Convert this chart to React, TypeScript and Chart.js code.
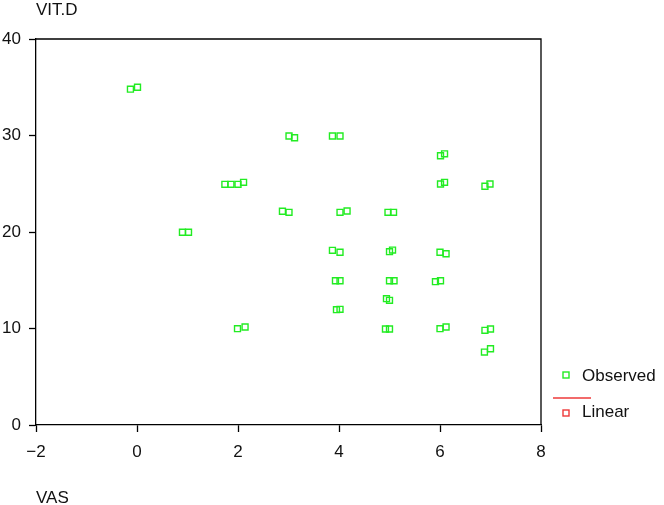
import React, { useEffect, useRef } from "react";
import { Chart, registerables } from "chart.js";

Chart.register(...registerables);

const xTitle = "VAS";
const yTitle = "VIT.D";
const seriesLabels = ["Observed", "Linear"];

const vasValues = [
  -0.13, 0.01, 3.01, 3.12, 3.87, 4.02, 6.01, 6.09, 1.74, 1.86,
  2.0, 2.11, 6.01, 6.09, 6.89, 6.99, 2.88, 3.01, 4.02, 4.16,
  4.97, 5.08, 0.9, 1.02, 3.87, 4.02, 5.0, 5.06, 6.0, 6.12,
  3.93, 4.02, 5.0, 5.09, 5.91, 6.01, 4.94, 5.0, 3.95, 4.02,
  1.99, 2.14, 4.92, 5.0, 6.0, 6.12, 6.89, 7.0, 6.88, 7.0,
];
const vitdValues = [
  34.8, 35.0, 29.95, 29.77, 29.95, 29.95, 27.9, 28.1, 24.94, 24.94,
  24.94, 25.15, 24.97, 25.15, 24.74, 24.97, 22.15, 22.04, 22.04, 22.18,
  22.04, 22.04, 19.97, 19.97, 18.1, 17.9, 17.96, 18.13, 17.9, 17.75,
  14.95, 14.95, 14.95, 14.95, 14.85, 14.95, 13.09, 12.92, 11.95, 11.99,
  9.98, 10.16, 9.95, 9.95, 9.98, 10.16, 9.81, 9.95, 7.56, 7.9,
];
const linearValues: { x: number; y: number }[] = [];

const GREEN = "#22ec22";
const RED = "#ee3a3a";
const FONT = "'Liberation Sans', Arial, Helvetica, sans-serif";
const TEXT = "#111";

export default function App() {
  const ref = useRef<HTMLCanvasElement | null>(null);

  useEffect(() => {
    const canvas = ref.current;
    if (!canvas) return;
    const observed = vasValues.map((x, i) => ({ x, y: vitdValues[i] }));

    const framePlugin = {
      id: "frame",
      afterDraw(chart: any) {
        const ctx = chart.ctx;
        const a = chart.chartArea;
        ctx.save();
        ctx.strokeStyle = "#000";
        ctx.lineWidth = 1.3;
        ctx.beginPath();
        ctx.moveTo(a.left, a.top);
        ctx.lineTo(a.right, a.top);
        ctx.lineTo(a.right, a.bottom);
        ctx.stroke();

        ctx.fillStyle = TEXT;
        ctx.font = `17px ${FONT}`;
        ctx.textAlign = "left";
        ctx.textBaseline = "alphabetic";
        ctx.fillText(yTitle, 36, 15);
        ctx.fillText(xTitle, 36, 503);

        // legend
        const ds = chart.data.datasets;
        ctx.lineWidth = 1.4;
        ctx.strokeStyle = ds[0].borderColor;
        ctx.strokeRect(563, 372, 6, 6);
        ctx.textBaseline = "middle";
        ctx.fillText(ds[0].label, 582, 376);
        ctx.strokeStyle = ds[1].borderColor;
        ctx.lineWidth = 1.3;
        ctx.beginPath();
        ctx.moveTo(553, 398);
        ctx.lineTo(591, 398);
        ctx.stroke();
        ctx.lineWidth = 1.4;
        ctx.strokeRect(563, 410, 6, 6);
        ctx.fillText(ds[1].label, 582, 412);
        ctx.restore();
      },
    };

    const chart = new Chart(canvas, {
      type: "scatter",
      data: {
        datasets: [
          {
            label: seriesLabels[0],
            data: observed,
            pointStyle: "rect",
            pointRadius: 4.2,
            borderWidth: 1.4,
            borderColor: GREEN,
            backgroundColor: "rgba(0,0,0,0)",
          },
          {
            label: seriesLabels[1],
            data: linearValues,
            type: "line",
            pointStyle: "rect",
            borderColor: RED,
            backgroundColor: "rgba(0,0,0,0)",
          },
        ],
      },
      options: {
        animation: false,
        responsive: false,
        devicePixelRatio: 1,
        layout: { padding: { left: 0, top: 39, right: 123, bottom: 0 } },
        plugins: { legend: { display: false }, tooltip: { enabled: false } },
        scales: {
          x: {
            type: "linear",
            min: -2,
            max: 8,
            afterFit: (s: any) => {
              s.height = 80;
            },
            ticks: {
              stepSize: 2,
              color: TEXT,
              font: { family: FONT, size: 17 },
              padding: 10,
              maxRotation: 0,
              callback: (v: any) => String(v).replace("-", "\u2212"),
            },
            grid: {
              drawOnChartArea: false,
              drawTicks: true,
              tickLength: 7,
              tickWidth: 1.3,
              tickColor: "#000",
            },
            border: { color: "#000", width: 1.3 },
          },
          y: {
            type: "linear",
            min: 0,
            max: 40,
            afterFit: (s: any) => {
              s.width = 36;
            },
            ticks: {
              stepSize: 10,
              color: TEXT,
              font: { family: FONT, size: 17 },
              padding: 8,
            },
            grid: {
              drawOnChartArea: false,
              drawTicks: true,
              tickLength: 7,
              tickWidth: 1.3,
              tickColor: "#000",
            },
            border: { color: "#000", width: 1.3 },
          },
        },
      },
      plugins: [framePlugin],
    } as any);

    return () => chart.destroy();
  }, []);

  return (
    <div style={{ position: "absolute", left: 0, top: 0, width: 664, height: 505, background: "#fff" }}>
      <canvas ref={ref} width={664} height={505} style={{ width: 664, height: 505, display: "block" }} />
    </div>
  );
}
